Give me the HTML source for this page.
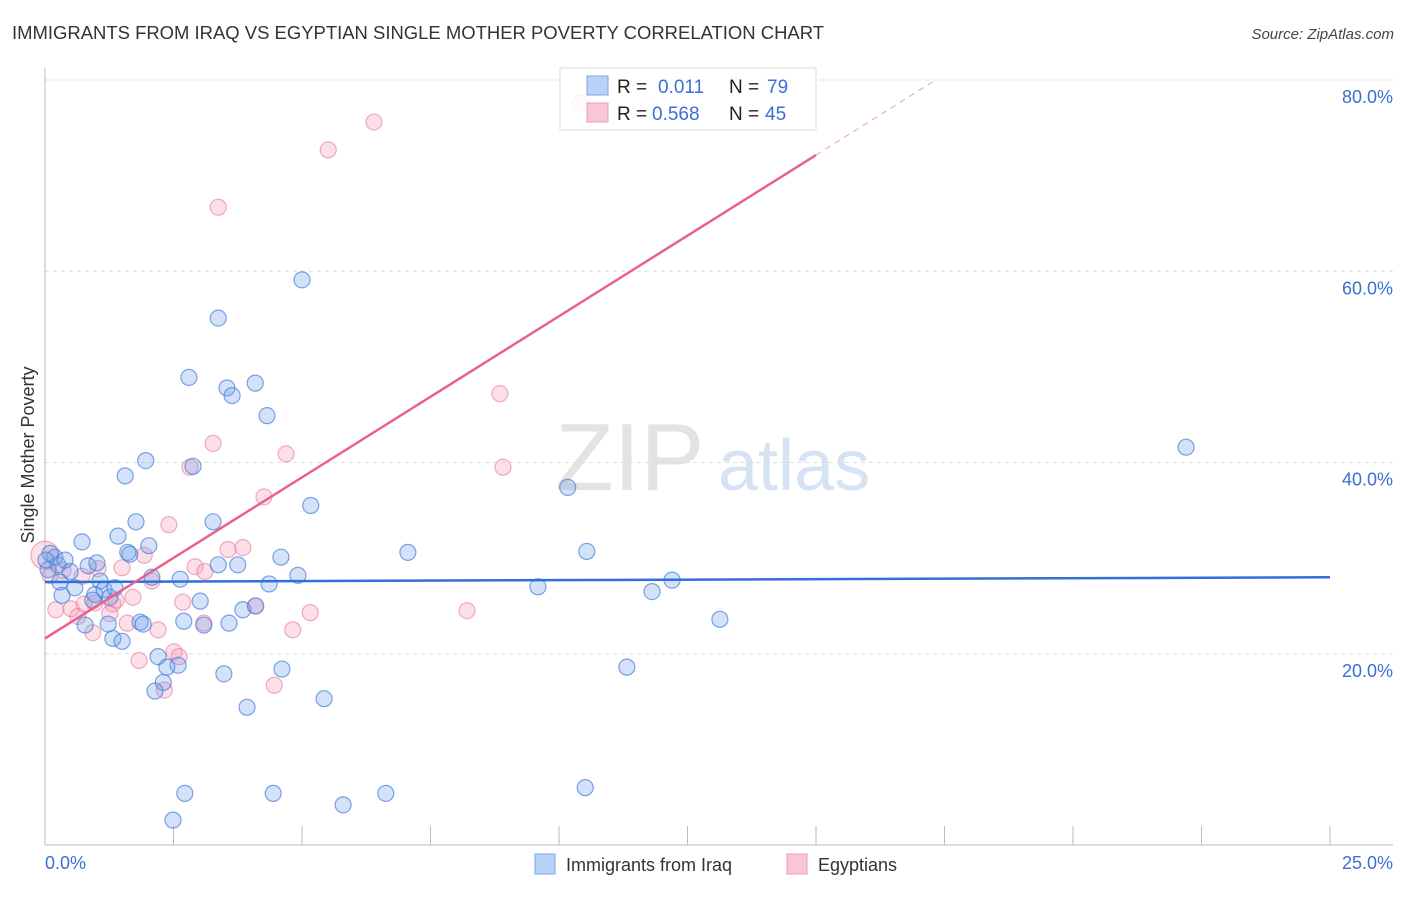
<!DOCTYPE html>
<html><head><meta charset="utf-8"><style>
body{margin:0;background:#fff;font-family:"Liberation Sans",sans-serif;}
svg text{font-family:"Liberation Sans",sans-serif;}
</style></head><body>
<svg id="chart" width="1406" height="892" viewBox="0 0 1406 892" xmlns="http://www.w3.org/2000/svg">
<text x="12" y="39" font-size="18.5" fill="#333" textLength="812" lengthAdjust="spacingAndGlyphs">IMMIGRANTS FROM IRAQ VS EGYPTIAN SINGLE MOTHER POVERTY CORRELATION CHART</text>
<text x="1394" y="39" font-size="15" fill="#444" text-anchor="end" font-style="italic">Source: ZipAtlas.com</text>
<g>
<text x="555" y="490" font-size="96" fill="#e3e3e3" font-family="Liberation Serif, serif">ZIP</text>
<text x="718" y="490" font-size="72" fill="#d6e3f5">atlas</text>
</g>
<g id="grid"></g>
<g id="axes"></g>
<g id="pts"></g>
<g id="lines"></g>
<text transform="translate(34,455) rotate(-90)" font-size="18" fill="#333" text-anchor="middle">Single Mother Poverty</text>
<text x="45" y="869" font-size="18" fill="#3b6fd4">0.0%</text>
<text x="1393" y="869" font-size="18" fill="#3b6fd4" text-anchor="end">25.0%</text>
<g>
<rect x="560" y="68" width="256" height="62" fill="rgba(255,255,255,0.85)" stroke="#ddd"/>
<rect x="587" y="76" width="21" height="19" fill="#b9d2f5" stroke="#7aa6e6"/>
<rect x="587" y="103" width="21" height="19" fill="#f9c6d5" stroke="#ef9ab4"/>
<text x="617" y="93" font-size="19" fill="#222">R = </text><text x="658" y="93" font-size="19" fill="#3b6fd4">0.011</text>
<text x="729" y="93" font-size="19" fill="#222">N = </text><text x="767" y="93" font-size="19" fill="#3b6fd4">79</text>
<text x="617" y="120" font-size="19" fill="#222">R = </text><text x="652" y="120" font-size="19" fill="#3b6fd4">0.568</text>
<text x="729" y="120" font-size="19" fill="#222">N = </text><text x="765" y="120" font-size="19" fill="#3b6fd4">45</text>
</g>
<g>
<rect x="535" y="854" width="20" height="20" fill="#b9d2f5" stroke="#7aa6e6"/>
<text x="566" y="871" font-size="18" fill="#333">Immigrants from Iraq</text>
<rect x="787" y="854" width="20" height="20" fill="#f9c6d5" stroke="#ef9ab4"/>
<text x="818" y="871" font-size="18" fill="#333">Egyptians</text>
</g>
</svg>
<script>
const yTicks=[20,40,60,80];
const yTickLabels=["20.0%","40.0%","60.0%","80.0%"];
const xTicks=[0,2.5,5,7.5,10,12.5,15,17.5,20,22.5,25];
const iraqX=[5.00,3.37,2.80,3.54,4.09,3.64,4.32,1.96,2.88,1.56,5.17,1.77,3.27,0.72,1.42,2.02,1.61,1.65,4.59,3.75,3.37,4.92,2.63,2.08,4.36,1.07,0.84,0.49,0.29,0.33,0.58,0.97,1.15,1.26,0.93,1.36,3.02,0.78,1.23,1.85,1.91,2.70,3.58,3.09,1.32,1.50,3.85,4.10,2.20,2.59,2.37,4.61,3.48,2.30,2.14,3.93,5.43,2.72,4.44,6.63,2.49,5.80,10.51,7.06,10.17,10.54,9.59,11.81,12.20,13.13,11.32,22.20,0.10,0.19,0.06,0.25,1.01,0.39,0.02];
const iraqY=[59.1,55.1,48.9,47.8,48.3,47.0,44.9,40.2,39.6,38.6,35.5,33.8,33.8,31.7,32.3,31.3,30.6,30.4,30.1,29.3,29.3,28.2,27.8,28.0,27.3,27.6,29.2,28.6,27.5,26.1,26.9,26.2,26.7,25.9,25.6,26.9,25.5,23.0,23.1,23.3,23.1,23.4,23.2,23.0,21.6,21.3,24.6,25.0,19.7,18.8,18.6,18.4,17.9,17.0,16.1,14.4,15.3,5.4,5.4,5.4,2.6,4.2,6.0,30.6,37.4,30.7,27.0,26.5,27.7,23.6,18.6,41.6,30.5,30.1,28.8,29.3,29.5,29.8,29.8];
const egyX=[10.41,6.40,5.51,3.37,8.85,3.27,4.69,2.82,8.91,4.26,2.41,3.56,3.85,1.93,2.92,1.50,3.11,2.08,1.03,0.72,0.35,0.0,0.10,0.21,0.51,0.64,0.76,0.97,1.32,1.38,1.71,1.26,1.60,2.20,2.68,0.93,5.16,4.82,8.21,4.09,3.09,2.51,2.61,1.83,2.32,4.46];
const egyY=[77.6,75.6,72.7,66.7,47.2,42.0,40.9,39.5,39.5,36.4,33.5,30.9,31.1,30.3,29.1,29.0,28.6,27.6,28.9,28.1,28.7,30.3,28.2,24.6,24.7,23.9,25.2,25.3,25.2,25.6,25.9,24.2,23.2,22.5,25.4,22.2,24.3,22.5,24.5,25.0,23.2,20.2,19.7,19.3,16.2,16.7];
const iraqTrend=[27.5,28.0];
const egyTrend=[21.6,3.37];
const NS="http://www.w3.org/2000/svg";
const X=v=>45+v/25*1285;
const Y=v=>845-v*9.5625;
function mk(tag,attrs,parent){const e=document.createElementNS(NS,tag);for(const k in attrs)e.setAttribute(k,attrs[k]);parent.appendChild(e);return e;}
const grid=document.getElementById('grid'),axes=document.getElementById('axes'),pts=document.getElementById('pts'),lines=document.getElementById('lines');
yTicks.forEach((t,i)=>{
 const l=mk('line',{x1:45,x2:1393,y1:Y(t),y2:Y(t),stroke:'#ddd','stroke-dasharray':'4,4'},grid);
 
 
 const tx=mk('text',{x:1393,y:Y(t)+23,'font-size':18,fill:'#3b6fd4','text-anchor':'end'},grid);
 tx.textContent=yTickLabels[i];
 
 
});
mk('line',{x1:45,x2:45,y1:68,y2:845,stroke:'#bbb'},axes);
mk('line',{x1:45,x2:1393,y1:845,y2:845,stroke:'#bbb'},axes);
xTicks.forEach(t=>{
 const l=mk('line',{x1:X(t),x2:X(t),y1:826,y2:845,stroke:'#bbb'},axes);
 
 
});
egyX.forEach((x,i)=>{
 const c=mk('circle',{cx:X(x),cy:Y(egyY[i]),r:(i==21?14:8),fill:'rgba(244,150,180,0.3)',stroke:'rgba(232,120,155,0.6)','stroke-width':1.2},pts);
 
 
});
iraqX.forEach((x,i)=>{
 const c=mk('circle',{cx:X(x),cy:Y(iraqY[i]),r:8,fill:'rgba(110,160,235,0.3)',stroke:'rgba(70,125,215,0.7)','stroke-width':1.2},pts);
 
 
});
const bl=mk('line',{x1:X(0),y1:Y(iraqTrend[0]),x2:X(25),y2:Y(iraqTrend[1]),stroke:'#2f6fd6','stroke-width':2.5},lines);


const pl=mk('line',{x1:X(0),y1:Y(egyTrend[0]),x2:X(15),y2:Y(egyTrend[0]+egyTrend[1]*15),stroke:'#e8608c','stroke-width':2.5},lines);


const xe=(80-egyTrend[0])/egyTrend[1];
const pd=mk('line',{x1:X(15),y1:Y(egyTrend[0]+egyTrend[1]*15),x2:X(xe),y2:Y(80),stroke:'#eaa0b8','stroke-width':1,'stroke-dasharray':'6,5'},lines);


</script>
</body></html>
